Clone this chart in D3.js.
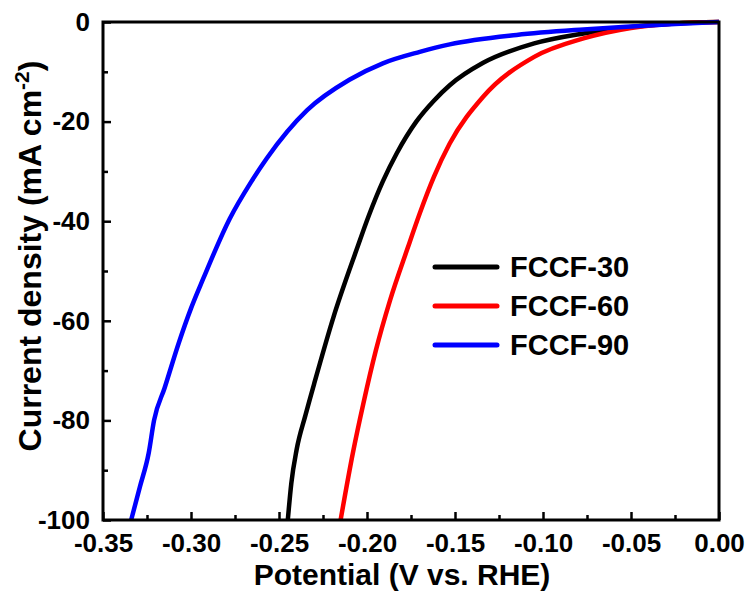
<!DOCTYPE html>
<html lang="en">
<head>
	<meta charset="UTF-8"/>
	<title>LSV curves</title>
	<script src="https://d3js.org/d3.v7.min.js"></script>
	<style>
		body { margin: 0; background: #fff; }
		text { font-family: "Liberation Sans", Arial, sans-serif; font-weight: bold; }
	</style>
</head>
<body>
<script>
	var w = 750;
	var h = 592;

	// series names and colours
	var seriesNames = ["FCCF-30", "FCCF-60", "FCCF-90"];
	var seriesColors = ["#000000", "#ff0000", "#0000ff"];

	// [potential (V vs RHE), current density (mA cm-2)]
	var fccf30 = [
		[-0.245, -100], [-0.243, -92.6], [-0.240, -85.9], [-0.235, -79.0], [-0.230, -72.6],
		[-0.219, -59.2], [-0.206, -45.8], [-0.199, -38.9], [-0.191, -32.0], [-0.183, -26.3],
		[-0.172, -20.0], [-0.162, -15.8], [-0.153, -12.7], [-0.134, -8.2], [-0.105, -4.3],
		[-0.077, -2.3], [-0.050, -1.0], [-0.025, -0.3], [0, 0]
	];
	var fccf60 = [
		[-0.215, -100], [-0.208, -86.5], [-0.202, -76.5], [-0.195, -66.0], [-0.187, -56.0],
		[-0.177, -45.5], [-0.170, -38.4], [-0.162, -31.1], [-0.153, -24.4], [-0.134, -15.0],
		[-0.105, -7.0], [-0.077, -3.3], [-0.050, -1.2], [-0.025, -0.3], [0, 0]
	];
	var fccf90 = [
		[-0.334, -100], [-0.329, -93.3], [-0.324, -86.5], [-0.321, -80.0], [-0.315, -73.5],
		[-0.307, -64.5], [-0.300, -57.5], [-0.293, -51.5], [-0.278, -39.5], [-0.266, -32.2],
		[-0.257, -27.4], [-0.234, -17.7], [-0.210, -11.6], [-0.191, -8.3], [-0.170, -6.0],
		[-0.153, -4.5], [-0.115, -2.6], [-0.077, -1.5], [-0.050, -0.9], [-0.025, -0.4], [0, 0]
	];
	var allSeries = [fccf30, fccf60, fccf90];

	// tick values
	var xTicks = [-0.35, -0.30, -0.25, -0.20, -0.15, -0.10, -0.05, 0.00];
	var xMinor = [-0.325, -0.275, -0.225, -0.175, -0.125, -0.075, -0.025];
	var yTicks = [0, -20, -40, -60, -80, -100];
	var yMinor = [-10, -30, -50, -70, -90];

	// plot box
	var pLeft = 103, pRight = 719, pTop = 22, pBottom = 520;

	var xScale = d3.scaleLinear()
				.domain([-0.35, 0])
				.range([pLeft, pRight]);

	var yScale = d3.scaleLinear()
				.domain([-100, 0])
				.range([pBottom, pTop]);

	var svg = d3.select("body")
				.append("svg")
				.attr("width", w)
				.attr("height", h);

	//x axis (ticks point inward)
	var xAxis = d3.axisBottom(xScale)
				.tickValues(xTicks)
				.tickSize(-8)
				.tickPadding(14)
				.tickFormat(d3.format(".2f"));
	svg.append("g")
		.attr("transform", "translate(0," + pBottom + ")")
		.call(xAxis);

	svg.append("g")
		.attr("transform", "translate(0," + pBottom + ")")
		.call(d3.axisBottom(xScale).tickValues(xMinor).tickSize(-5).tickFormat(""));

	//y axis
	var yAxis = d3.axisLeft(yScale)
				.tickValues(yTicks)
				.tickSize(-8)
				.tickPadding(13)
				.tickFormat(d3.format("d"));
	svg.append("g")
		.attr("transform", "translate(" + pLeft + ",0)")
		.call(yAxis);

	svg.append("g")
		.attr("transform", "translate(" + pLeft + ",0)")
		.call(d3.axisLeft(yScale).tickValues(yMinor).tickSize(-5).tickFormat(""));

	svg.selectAll(".domain").remove();
	svg.selectAll(".tick line").attr("stroke", "#000").attr("stroke-width", 2.5);
	svg.selectAll(".tick text")
		.style("font-size", "26px")
		.attr("fill", "#000")
		.text(function () { return d3.select(this).text().replace("\u2212", "-"); });

	// curves
	var line = d3.line()
		.x(function (d) { return xScale(d[0]); })
		.y(function (d) { return yScale(d[1]); })
		.curve(d3.curveMonotoneX);

	svg.selectAll(".curve")
		.data(allSeries)
		.enter()
		.append("path")
		.attr("class", "curve")
		.attr("d", line)
		.attr("fill", "none")
		.attr("stroke", function (d, i) { return seriesColors[i]; })
		.attr("stroke-width", 4.5)
		.attr("stroke-linejoin", "round");

	// frame
	svg.append("rect")
		.attr("x", pLeft)
		.attr("y", pTop)
		.attr("width", pRight - pLeft)
		.attr("height", pBottom - pTop)
		.attr("fill", "none")
		.attr("stroke", "#000")
		.attr("stroke-width", 3);

	// legend
	var legend = svg.selectAll(".legend")
		.data(seriesNames)
		.enter()
		.append("g")
		.attr("class", "legend")
		.attr("transform", function (d, i) { return "translate(435," + (267 + i * 39) + ")"; });

	legend.append("line")
		.attr("x1", 0).attr("x2", 62)
		.attr("stroke", function (d, i) { return seriesColors[i]; })
		.attr("stroke-width", 5)
		.attr("stroke-linecap", "round");

	legend.append("text")
		.attr("x", 75)
		.attr("dy", "0.36em")
		.style("font-size", "29px")
		.text(function (d) { return d; });

	// x axis label
	svg.append("text")
		.attr("text-anchor", "middle")
		.attr("x", 402)
		.attr("y", 585)
		.style("font-size", "30px")
		.text("Potential (V vs. RHE)");

	// y axis label
	var yLabel = svg.append("text")
		.attr("text-anchor", "middle")
		.attr("transform", "translate(41,256) rotate(-90)")
		.style("font-size", "32px");
	yLabel.append("tspan").text("Current density (mA cm");
	yLabel.append("tspan").attr("dy", -12).style("font-size", "21px").text("-2");
	yLabel.append("tspan").attr("dy", 12).text(")");
</script>
</body>
</html>
